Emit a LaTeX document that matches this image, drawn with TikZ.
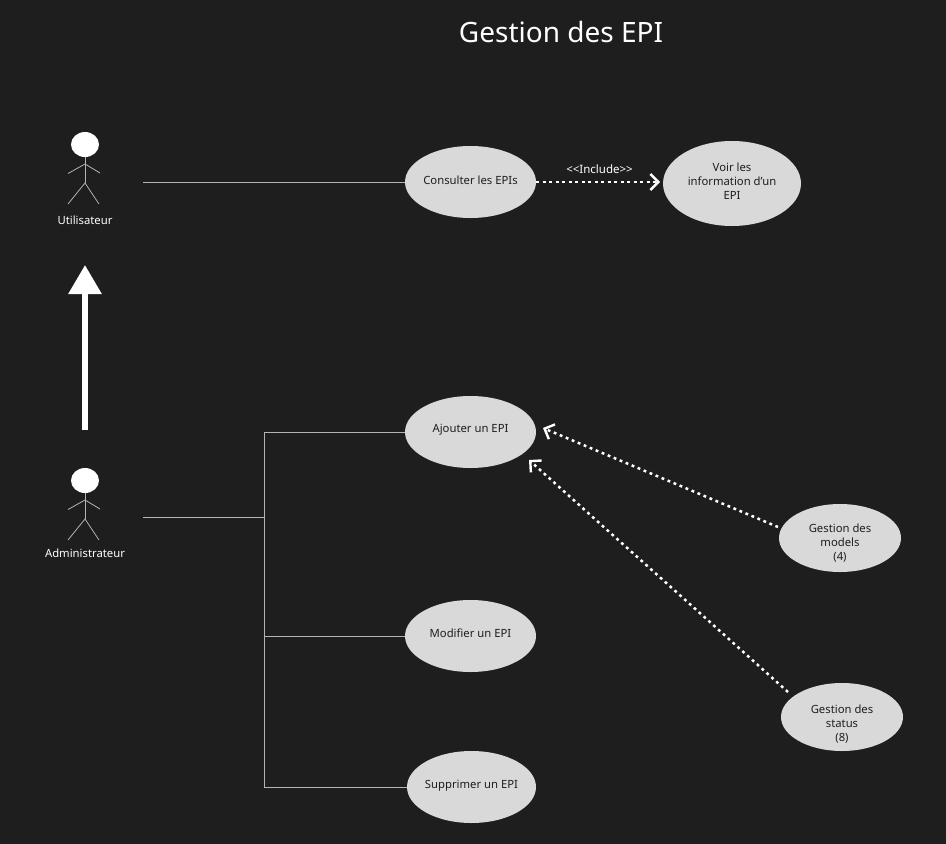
\documentclass[tikz,border=0pt]{standalone}
\usepackage{fontspec}
\setmainfont{Noto Sans}
\usetikzlibrary{shapes.geometric,arrows.meta}
\definecolor{bg}{HTML}{1E1E1E}
\definecolor{usecasefill}{HTML}{D9D9D9}
\definecolor{linegrey}{HTML}{B4B4B4}
\tikzset{
  usecase/.style={ellipse,fill=usecasefill,draw=none,inner sep=0pt},
  uctext/.style={text=bg,inner sep=0pt,font=\fontsize{11.3}{14}\selectfont,align=center},
  caption/.style={text=white,inner sep=0pt,font=\fontsize{11.3}{14}\selectfont,align=center},
  assoc/.style={draw=linegrey,line width=1pt},
  limb/.style={draw=linegrey,line width=0.8pt},
  includes/.style={draw=white,line width=2.5pt,dash pattern=on 2.8pt off 3.7pt,
    -{Straight Barb[length=8pt,width=16pt,line width=2.4pt]}},
  head/.style={ellipse,fill=white,draw=none,minimum width=28pt,minimum height=25pt,inner sep=0pt},
  bigarrow/.style={draw=white,line width=6pt,-{Triangle[length=29pt,width=32pt]}}
}
\newcommand{\stick}[2]{%
  \draw[limb] (#1,#2+12) -- (#1,#2+38.5);
  \draw[limb] (#1-17,#2+29) -- (#1,#2+19.5) -- (#1+15,#2+28.5);
  \draw[limb] (#1-17,#2+59.5) -- (#1,#2+38.5) -- (#1+14,#2+59.5);
}
\begin{document}
\begin{tikzpicture}[x=1pt,y=-1pt]
\fill[bg] (0,0) rectangle (946,844);
\useasboundingbox (0,0) rectangle (946,844);

\node[text=white,inner sep=0pt,font=\fontsize{28}{32}\selectfont] (title) at (561,32) {Gestion des EPI};

% actors
\stick{85}{144.5}
\stick{85}{480.5}
\node[head] (h1) at (85,144.5) {};
\node[head] (h2) at (85,480.5) {};
\node[caption] (u) at (85,220) {Utilisateur};
\node[caption] (adm) at (85,553) {Administrateur};

% big generalisation arrow
\coordinate (g0) at (85,430);
\coordinate (g1) at (85,265);
\draw[bigarrow] (g0) -- (g1);

% use cases
\node[usecase,minimum width=131pt,minimum height=72pt,label={[uctext,yshift=2pt]center:Consulter les EPIs}] (consult) at (470.5,182) {};
\node[usecase,minimum width=138pt,minimum height=85pt,label={[uctext,yshift=2pt]center:Voir les\\information d’un\\EPI}] (voir) at (732,183.5) {};
\node[usecase,minimum width=131pt,minimum height=72pt,label={[uctext,yshift=2pt]center:Ajouter un EPI}] (ajout) at (470.5,432) {};
\node[usecase,minimum width=131pt,minimum height=72pt,label={[uctext,yshift=3pt]center:Modifier un EPI}] (modif) at (470.5,636) {};
\node[usecase,minimum width=129pt,minimum height=72pt,label={[uctext,yshift=1pt]center:Supprimer un EPI}] (suppr) at (471.5,787) {};
\node[usecase,minimum width=122pt,minimum height=68pt,label={[uctext,yshift=-5.5pt]center:Gestion des\\models\\(4)}] (models) at (840,538) {};
\node[usecase,minimum width=122pt,minimum height=68pt,label={[uctext,yshift=-7.5pt]center:Gestion des\\status\\(8)}] (status) at (842,717) {};

% associations
\coordinate (a1) at (143,182);
\coordinate (a2) at (143,517);
\coordinate (j) at (264,517);
\coordinate (jt) at (264,432);
\coordinate (jm) at (264,636);
\coordinate (jb) at (264,787);
\draw[assoc] (a1) -- (consult);
\draw[assoc] (a2) -- (j);
\draw[assoc] (ajout) -- (jt) -- (jb) -- (suppr);
\draw[assoc] (jm) -- (modif);

% includes
\node[caption,font=\fontsize{11.5}{13}\selectfont] (inc) at (599.5,169) {<{}<Include>{}>};
\coordinate (t0) at (660,182);
\draw[includes] (consult.east) -- (t0);
\coordinate (t1) at (543,428);
\coordinate (t2) at (529,460);
\coordinate (s1) at (778,527);
\coordinate (s2) at (788,692);
\draw[includes] (s1) -- (t1);
\draw[includes] (s2) -- (t2);
\end{tikzpicture}
\end{document}
